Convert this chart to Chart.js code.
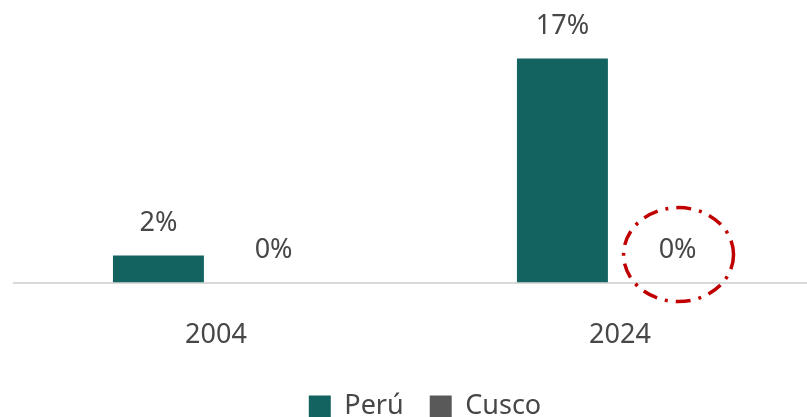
<!DOCTYPE html>
<html>
<head>
<meta charset="utf-8">
<script src="https://cdn.jsdelivr.net/npm/chart.js@4"></script>
<style>
  html, body { margin: 0; padding: 0; background: #fff; overflow: hidden; }
  #wrap { position: relative; width: 822px; height: 430px; }
</style>
</head>
<body>
<div id="wrap"><canvas id="myChart"></canvas></div>
<script>
// data
const years = ["2004", "2024"];
const peru = [2.05, 17];
const cusco = [0, 0];
const seriesNames = ["Perú", "Cusco"];
const textColor = "#474747";

// value labels above the bars
const valueLabels = {
  id: "valueLabels",
  afterDatasetsDraw(chart) {
    const ctx = chart.ctx;
    ctx.save();
    ctx.font = "27px 'Noto Sans'";
    ctx.fillStyle = textColor;
    ctx.textAlign = "center";
    ctx.textBaseline = "middle";
    chart.data.datasets.forEach((ds, i) => {
      chart.getDatasetMeta(i).data.forEach((bar, j) => {
        ctx.fillText(Math.round(ds.data[j]) + "%", bar.x, bar.y - 32);
      });
    });
    ctx.restore();
  },
};

// red dash-dot circle around Cusco 2024
const highlight = {
  id: "highlight",
  afterDatasetsDraw(chart) {
    const bar = chart.getDatasetMeta(1).data[1];
    const ctx = chart.ctx;
    ctx.save();
    ctx.strokeStyle = "#C00000";
    ctx.lineWidth = 3.5;
    ctx.setLineDash([15, 8, 3, 8]);
    ctx.beginPath();
    ctx.ellipse(bar.x + 1, bar.y - 28, 55, 47, 0, 0, Math.PI * 2);
    ctx.stroke();
    ctx.restore();
  },
};

// shift legend to match
const legendShift = {
  id: "legendShift",
  afterLayout(chart) {
    const lg = chart.legend;
    lg.left += 7;
    lg.right += 7;
  },
};

const ctx = document.getElementById("myChart").getContext("2d");
const myChart = new Chart(ctx, {
  type: "bar",
  data: {
    labels: years,
    datasets: [
      {
        label: seriesNames[0],
        data: peru,
        backgroundColor: "#136361",
        categoryPercentage: 0.57,
        barPercentage: 0.79,
      },
      {
        label: seriesNames[1],
        data: cusco,
        backgroundColor: "#595959",
        categoryPercentage: 0.57,
        barPercentage: 0.79,
      },
    ],
  },
  options: {
    responsive: true,
    maintainAspectRatio: false,
    animation: false,
    layout: { padding: { left: 14, right: 0, top: 19, bottom: 0 } },
    plugins: {
      legend: {
        position: "bottom",
        labels: {
          boxWidth: 22,
          boxHeight: 22,
          padding: 12,
          color: textColor,
          font: { family: "'Noto Sans'", size: 27 },
          generateLabels(chart) {
            const items = Chart.defaults.plugins.legend.labels.generateLabels(chart);
            items.forEach((it, i) => { if (i < items.length - 1) it.text += "  "; });
            return items;
          },
        },
      },
      tooltip: { enabled: false },
    },
    scales: {
      x: {
        grid: { display: false },
        border: { color: "#d9d9d9", width: 2 },
        ticks: {
          color: textColor,
          padding: 29,
          font: { family: "'Noto Sans'", size: 27 },
        },
      },
      y: {
        display: false,
        min: 0,
        max: 20,
      },
    },
  },
  plugins: [valueLabels, highlight, legendShift],
});
</script>
</body>
</html>
